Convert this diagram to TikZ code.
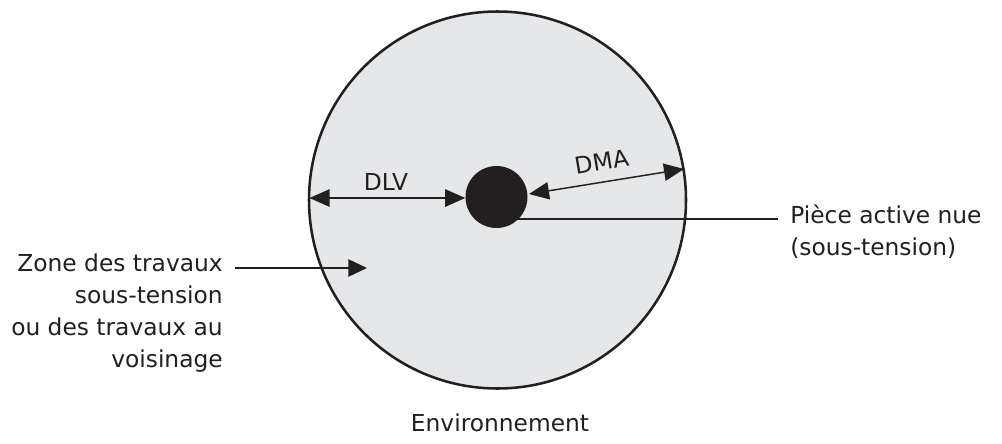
\documentclass[tikz,border=0pt]{standalone}
\usepackage{fontspec}
\setmainfont{DejaVu Sans}
\usetikzlibrary{arrows.meta}
\definecolor{ink}{HTML}{231F20}
\definecolor{zone}{HTML}{E6E7E8}
\tikzset{
  lbl/.style={inner sep=0pt, text=ink, font=\fontsize{17.5}{24}\selectfont},
  dimarrow/.style={draw=ink, line width=1.1pt, {Triangle[length=15pt,width=13pt]}-{Triangle[length=15pt,width=13pt]}},
  leader/.style={draw=ink, line width=1.1pt},
}
\begin{document}
\begin{tikzpicture}[x=0.75pt,y=-0.75pt]
\useasboundingbox (0,0) rectangle (1002,443);
% zone circle
\node[circle, draw=ink, fill=zone, line width=1.9pt, minimum size=377*0.75pt, inner sep=0pt] (zonec) at (497.5,200) {};
% live part
\node[circle, fill=ink, minimum size=62*0.75pt, inner sep=0pt] (piece) at (496.5,197) {};
% DLV
\coordinate (dlvL) at (309.5,198);
\draw[dimarrow] (dlvL) -- (piece.west |- dlvL);
\node[lbl] (dlv) at (386,182) {DLV};
% DMA
\coordinate (dmaR) at (684,169);
\coordinate (dmaL) at (529,194);
\draw[dimarrow] (dmaL) -- (dmaR);
\node[lbl, rotate=9.5] (dma) at (602,162) {DMA};
% piece label
\node[lbl, anchor=north west, align=left] (piecelbl) at (790,205) {Pièce active nue\\(sous-tension)};
\coordinate (pieceS) at (517,219);
\draw[leader] (pieceS) -- (778,219);
% zone label
\node[lbl, anchor=north east, align=right] (zonelbl) at (223,253) {Zone des travaux\\sous-tension\\ou des travaux au\\voisinage};
\coordinate (zoneTip) at (367,268);
\draw[leader, -{Triangle[length=14pt,width=13pt]}] (235,268) -- (zoneTip);
% environment
\node[lbl] (env) at (500,423) {Environnement};
\end{tikzpicture}
\end{document}
